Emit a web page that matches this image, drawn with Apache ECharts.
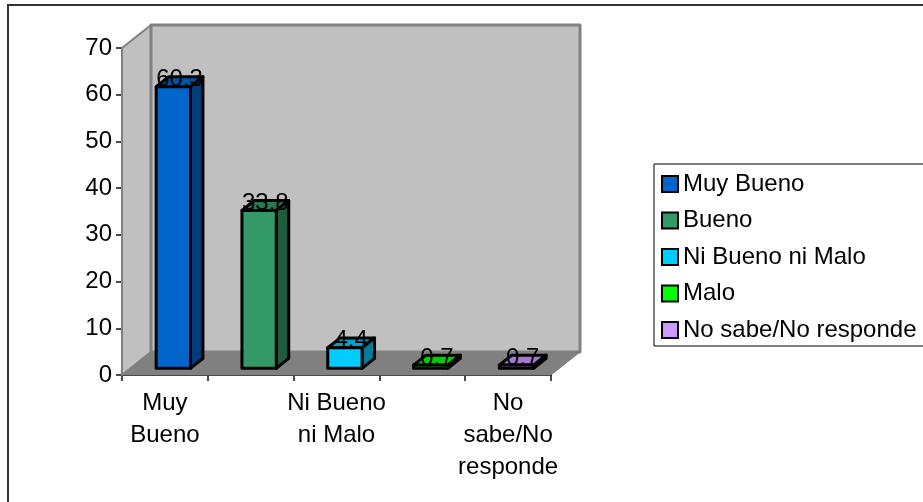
<!DOCTYPE html>
<html><head><meta charset="utf-8">
<style>html,body{margin:0;padding:0;background:#fff}#c{width:923px;height:502px}</style>
<script src="https://cdn.jsdelivr.net/npm/echarts@6/dist/echarts.min.js"></script>
</head><body><div id="c"></div>
<script>
const categories = ['Muy Bueno','Bueno','Ni Bueno ni Malo','Malo','No sabe/No responde'];
const tickLabels = ['Muy\nBueno','Bueno','Ni Bueno\nni Malo','Malo','No\nsabe/No\nresponde'];
const values = [60.3,33.8,4.4,0.7,0.7];
const valueLabels = ['60.3','33.8','4.4','0.7','0.7'];
const frontColors = ['#0066CC','#339966','#00CCFF','#00FF00','#CC99FF'];
const topColors = ['#0052A3','#297A52','#00A3CC','#00CC00','#A37ACC'];
const sideColors = ['#003D7A','#1F5C3D','#007A99','#009900','#7A5C99'];
const yTicks = {min:0,max:70,interval:10};
const FONT = '"Liberation Sans", Arial, sans-serif';
const depthX = 29, depthY = -23, barF = 0.29, barB = 0.72, barW = 0.4;

function poly(pts, fill, stroke, lw){
  return {type:'polygon',shape:{points:pts},style:{fill,stroke,lineWidth:lw||0,lineJoin:'round'}};
}
function wallsItem(params, api){
  const a = api.coord([0,yTicks.min]), b = api.coord([categories.length-1,yTicks.max]);
  const cw = api.size([1,0])[0];
  const x0 = a[0]-cw/2, x1 = b[0]+cw/2, y0=a[1], y1=b[1];
  return {type:'group',silent:true,children:[
    poly([[x0,y1],[x0+depthX,y1+depthY],[x0+depthX,y0+depthY],[x0,y0]],'#C0C0C0','#808080',2),
    poly([[x0+depthX,y1+depthY],[x1+depthX,y1+depthY],[x1+depthX,y0+depthY],[x0+depthX,y0+depthY]],'#C0C0C0','#808080',3),
    poly([[x0,y0],[x0+depthX,y0+depthY],[x1+depthX,y0+depthY],[x1,y0]],'#808080','#808080',1)
  ]};
}
function barItem(i){
  return function(params, api){
    const base = api.coord([api.value(0),0]), top = api.coord([api.value(0),api.value(1)]);
    const cw = api.size([1,0])[0], hw = cw*barW/2;
    const fx = depthX*barF, fy = depthY*barF;
    const dx = depthX*(barB-barF), dy = depthY*(barB-barF);
    const l = base[0]-hw+fx, r = base[0]+hw+fx, b = base[1]+fy, t = top[1]+fy;
    const lw = 3;
    return {type:'group',silent:true,children:[
      poly([[l,t],[r,t],[r+dx,t+dy],[l+dx,t+dy]],topColors[i],'#000',lw),
      poly([[r,t],[r+dx,t+dy],[r+dx,b+dy],[r,b]],sideColors[i],'#000',lw),
      poly([[l,b],[r,b],[r,t],[l,t]],frontColors[i],'#000',lw),
      {type:'text',style:{text:valueLabels[i],x:(l+r+dx)/2,y:t+dy/2-2,align:'center',verticalAlign:'middle',
        font:'24px '+FONT,fill:'#000'},z2:50}
    ]};
  };
}
const series = [{type:'custom',name:'walls',data:[[0,0]],renderItem:wallsItem,z:1,silent:true,legendHoverLink:false,clip:false}];
categories.forEach((c,i)=>series.push({type:'custom',name:c,data:[[i,values[i]]],renderItem:barItem(i),z:2+i,clip:false,
  encode:{x:0,y:1},itemStyle:{color:frontColors[i]}}));

const chart = echarts.init(document.getElementById('c'),null,{renderer:'canvas'});
chart.setOption({
  animation:false,backgroundColor:'#fff',
  textStyle:{fontFamily:FONT},
  graphic:[{type:'rect',shape:{x:8,y:5,width:1000,height:600},style:{fill:'none',stroke:'#333',lineWidth:2},z:-1,silent:true}],
  grid:{left:122,right:372,top:48,bottom:127,containLabel:false},
  xAxis:{type:'category',data:categories,
    axisLine:{show:true,lineStyle:{color:'#111',width:2}},
    axisTick:{show:true,length:6,lineStyle:{color:'#111',width:1.5}},
    axisLabel:{interval:0,color:'#000',fontSize:24,lineHeight:32,margin:12,fontFamily:FONT,
      formatter:(v,i)=> i%2===0 ? tickLabels[i] : ''}},
  yAxis:{type:'value',min:yTicks.min,max:yTicks.max,interval:yTicks.interval,
    splitLine:{show:false},
    axisLine:{show:true,lineStyle:{color:'#111',width:2}},
    axisTick:{show:true,length:6,lineStyle:{color:'#111',width:1.5}},
    axisLabel:{color:'#000',fontSize:24,margin:10,fontFamily:FONT}},
  legend:{show:true,orient:'vertical',left:654,top:164,itemWidth:16,itemHeight:16,itemGap:12.5,padding:[8,40,4,7],
    borderColor:'#000',borderWidth:1,backgroundColor:'#fff',
    textStyle:{fontSize:24,lineHeight:24,color:'#000',fontFamily:FONT},selectedMode:false,
    data:categories.map((c,i)=>({name:c,icon:'rect',itemStyle:{color:frontColors[i],borderColor:'#000',borderWidth:2}}))},
  series
});
</script></body></html>
